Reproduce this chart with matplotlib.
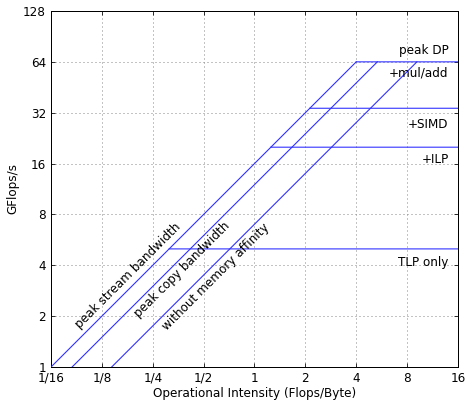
import matplotlib
matplotlib.use("Agg")
import matplotlib.pyplot as plt
import numpy as np

# memory bandwidths (GB/s) and compute roofs (GFlops/s)
bw_labels = ["peak stream bandwidth", "peak copy bandwidth", "without memory affinity"]
bandwidths = [16, 12, 7]
roof_labels = ["+mul/add", "+SIMD", "+ILP", "TLP only"]
roofs = [64, 34, 20, 5]
peak_label = "peak DP"

x_ticks = [1/16, 1/8, 1/4, 1/2, 1, 2, 4, 8, 16]
x_ticklabels = ["1/16", "1/8", "1/4", "1/2", "1", "2", "4", "8", "16"]
y_ticks = [1, 2, 4, 8, 16, 32, 64, 128]

fig = plt.figure(figsize=(6.5, 401 / 72), dpi=72)
ax = fig.add_axes([0.109, 0.0848, 0.8696, 0.8878])
ax.set_axisbelow(True)

blue = "#3030ff"
peak = max(roofs)
for bw in bandwidths:
    ax.plot([1 / bw, peak / bw], [1, peak], color=blue, lw=1.1, zorder=3)
for r in roofs:
    ax.plot([r / bandwidths[0], 16], [r, r], color=blue, lw=1.1, zorder=3,
            snap=False)

ax.set_xscale("log", base=2)
ax.set_yscale("log", base=2)
ax.set_xlim(1/16, 16)
ax.set_ylim(1, 128)
ax.set_xticks(x_ticks)
ax.set_xticklabels(x_ticklabels)
ax.set_yticks(y_ticks)
ax.set_yticklabels([str(v) for v in y_ticks])
ax.minorticks_off()
ax.tick_params(direction="in", top=True, right=True, labelsize=12, length=4, pad=5)
ax.grid(True, linestyle=(0, (1, 3)), color="#888888", lw=1)
for s in ax.spines.values():
    s.set_linewidth(1)

ax.set_xlabel("Operational Intensity (Flops/Byte)", fontsize=12, labelpad=2)
ax.set_ylabel("GFlops/s", fontsize=12, labelpad=4)

# labels on the right
txt = dict(fontsize=12, ha="right", va="center")
ax.text(14.1, 75, peak_label, **txt)
for lab, y in zip(roof_labels, [54.8, 27.4, 16.8, 4.18]):
    ax.text(14.1, y, lab, **txt)

for lab, (x, y) in zip(bw_labels, [(0.178, 3.45), (0.372, 3.75), (0.591, 3.41)]):
    ax.text(x, y, lab, fontsize=12, rotation=45, ha="center", va="center",
            rotation_mode="anchor")

fig.savefig("out.png", dpi=72)
